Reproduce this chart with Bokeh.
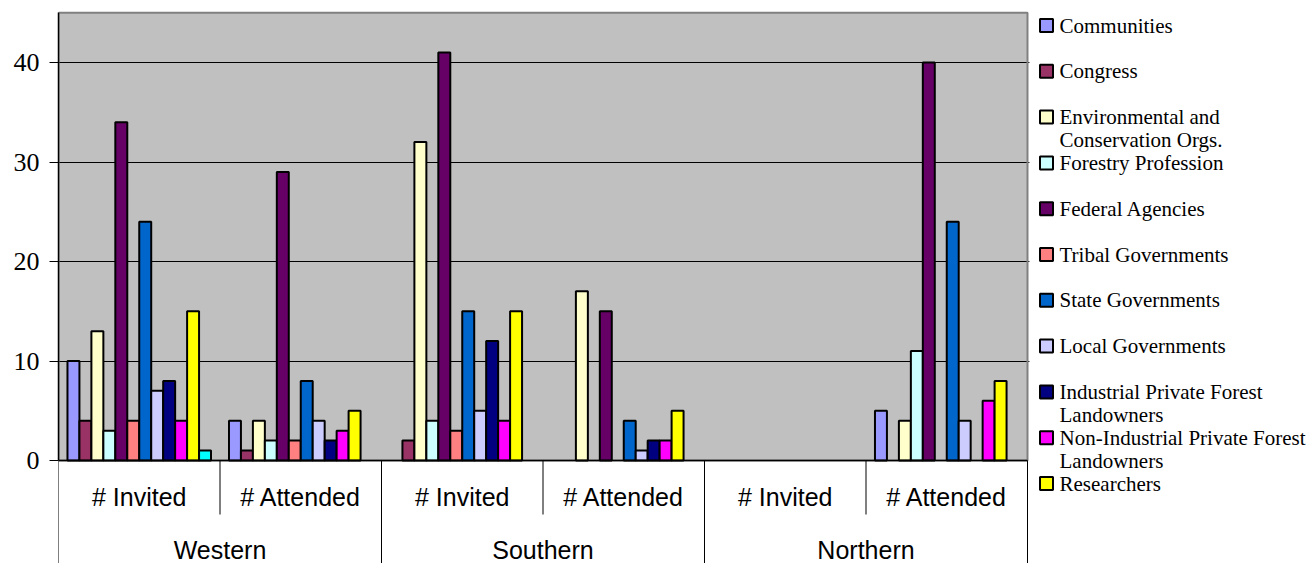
from bokeh.plotting import figure
from bokeh.models import Range1d, FixedTicker
from bokeh.embed import file_html
from bokeh.resources import INLINE
from bokeh.core.properties import value

# ---- data -------------------------------------------------------------
regions = ["Western", "Southern", "Northern"]
measures = ["# Invited", "# Attended"]

series_names = [
    "Communities",
    "Congress",
    "Environmental and Conservation Orgs.",
    "Forestry Profession",
    "Federal Agencies",
    "Tribal Governments",
    "State Governments",
    "Local Governments",
    "Industrial Private Forest Landowners",
    "Non-Industrial Private Forest Landowners",
    "Researchers",
    "Other",
]

# values per category: Western inv/att, Southern inv/att, Northern inv/att
communities = [10, 4, 0, 0, 0, 5]
congress = [4, 1, 2, 0, 0, 0]
environmental = [13, 4, 32, 17, 0, 4]
forestry = [3, 2, 4, 0, 0, 11]
federal = [34, 29, 41, 15, 0, 40]
tribal = [4, 2, 3, 0, 0, 0]
state = [24, 8, 15, 4, 0, 24]
local = [7, 4, 5, 1, 0, 4]
industrial = [8, 2, 12, 2, 0, 0]
non_industrial = [4, 3, 4, 2, 0, 6]
researchers = [15, 5, 15, 5, 0, 8]
other = [1, 0, 0, 0, 0, 0]

series_values = [communities, congress, environmental, forestry, federal, tribal,
                 state, local, industrial, non_industrial, researchers, other]

series_colors = ["#9999FF", "#993366", "#FFFFCC", "#CCFFFF", "#660066", "#FF8080",
                 "#0066CC", "#CCCCFF", "#000080", "#FF00FF", "#FFFF00", "#00FFFF"]

# legend text, wrapped the way it is laid out beside the chart
legend_lines = [
    ["Communities"],
    ["Congress"],
    ["Environmental and", "Conservation Orgs."],
    ["Forestry Profession"],
    ["Federal Agencies"],
    ["Tribal Governments"],
    ["State Governments"],
    ["Local Governments"],
    ["Industrial Private Forest", "Landowners"],
    ["Non-Industrial Private Forest", "Landowners"],
    ["Researchers"],
]

y_ticks = [0, 10, 20, 30, 40]

SERIF = "'Liberation Serif', 'Times New Roman', serif"
SANS = "'Liberation Sans', Arial, sans-serif"

# ---- layout constants (pixels) ----------------------------------------
W, H = 1311, 563
LEFT = 58            # left edge of the plot area
GROUP_PX = 161.5     # width of one category slot
ZERO_PX = 460        # vertical pixel of the value 0
UNIT_PX = 9.95       # pixels per unit on the value axis
Y_MAX = 45

n_cat = len(regions) * len(measures)
n_ser = len(series_values)
bar_w = 1.0 / (n_ser + 1.5)

x_end = (W - LEFT) / GROUP_PX
y_start = -(H - ZERO_PX) / UNIT_PX
y_end = ZERO_PX / UNIT_PX

p = figure(width=W, height=H, output_backend="svg", toolbar_location=None,
           x_range=Range1d(0, x_end), y_range=Range1d(y_start, y_end),
           x_axis_location=None, y_axis_location="left")
p.min_border_left = LEFT
p.min_border_right = 0
p.min_border_top = 0
p.min_border_bottom = 0
p.outline_line_color = None
p.background_fill_color = "white"
p.border_fill_color = "white"

for g in p.grid:
    if g.dimension == 0:
        g.visible = False

# pixel-based ranges for the legend column
p.extra_x_ranges["px"] = Range1d(LEFT, W)
p.extra_y_ranges["px"] = Range1d(H, 0)

# plot area fill, under the grid
p.quad(left=0, right=n_cat, bottom=0, top=Y_MAX, fill_color="#C0C0C0",
       line_color=None, level="image")

p.ygrid.ticker = FixedTicker(ticks=y_ticks[1:])
p.ygrid.grid_line_color = "#000000"
p.ygrid.grid_line_width = 1

# blank out the grid beyond the plot area
p.quad(left=n_cat + 0.012, right=x_end + 1, bottom=y_start - 1, top=y_end + 1,
       fill_color="white", line_color=None)

# plot area border
p.quad(left=0, right=n_cat, bottom=0, top=Y_MAX, fill_color=None,
       line_color="#808080", line_width=2)

# bars (empty counts draw nothing)
for i, (vals, col) in enumerate(zip(series_values, series_colors)):
    xs = [g + 0.5 + (i - (n_ser - 1) / 2) * bar_w for g in range(n_cat)]
    keep = [k for k, v in enumerate(vals) if v > 0]
    p.vbar(x=[xs[k] for k in keep], top=[vals[k] for k in keep], bottom=0,
           width=bar_w, fill_color=col, line_color="black", line_width=2)

# category baseline
p.segment(x0=[0], y0=[0], x1=[n_cat], y1=[0], line_color="black", line_width=1.5)

# separators under the axis
sub_sep = [2 * r + 1 for r in range(len(regions))]
top_sep = [2 * r for r in range(len(regions) + 1)]
sub_len = -54 / UNIT_PX
p.segment(x0=sub_sep, y0=[0] * len(sub_sep), x1=sub_sep, y1=[sub_len] * len(sub_sep),
          line_color="black", line_width=1)
p.segment(x0=top_sep, y0=[0] * len(top_sep), x1=top_sep, y1=[y_start] * len(top_sep),
          line_color="black", line_width=1)

# category labels
sub_x = [g + 0.5 for g in range(n_cat)]
sub_text = [m for _ in regions for m in measures]
p.text(x=sub_x, y=[-36 / UNIT_PX] * n_cat, text=sub_text,
       text_font=value(SANS), text_font_size="25px",
       text_align="center", text_baseline="middle", text_color="black")
reg_x = [2 * r + 1 for r in range(len(regions))]
p.text(x=reg_x, y=[-89 / UNIT_PX] * len(regions), text=regions,
       text_font=value(SANS), text_font_size="25px",
       text_align="center", text_baseline="middle", text_color="black")

# y axis
ax = p.yaxis[0]
ax.bounds = (0, Y_MAX)
ax.ticker = FixedTicker(ticks=y_ticks)
ax.axis_line_color = "black"
ax.axis_line_width = 1.5
ax.major_tick_line_color = "black"
ax.major_tick_out = 9
ax.major_tick_in = 0
ax.minor_tick_line_color = None
ax.major_label_text_font = SERIF
ax.major_label_text_font_size = "26px"
ax.major_label_text_color = "black"
ax.major_label_standoff = 10

# legend column
ENTRY_TOP = 25
ENTRY_STEP = 45.8
LINE_STEP = 23
mark_x, mark_y, mark_c = [], [], []
txt_x, txt_y, txt = [], [], []
for k, lines in enumerate(legend_lines):
    yc = ENTRY_TOP + k * ENTRY_STEP
    mark_x.append(1046)
    mark_y.append(yc)
    mark_c.append(series_colors[k])
    for j, line in enumerate(lines):
        txt_x.append(1059)
        txt_y.append(yc + j * LINE_STEP)
        txt.append(line)

p.scatter(x=mark_x, y=mark_y, marker="square", size=13, fill_color=mark_c,
          line_color="black", line_width=2, x_range_name="px", y_range_name="px")
p.text(x=txt_x, y=txt_y, text=txt, text_font=value(SERIF),
       text_font_size="21px", text_align="left", text_baseline="middle",
       text_color="black", x_range_name="px", y_range_name="px")

open("out.html", "w").write(file_html(p, INLINE))
